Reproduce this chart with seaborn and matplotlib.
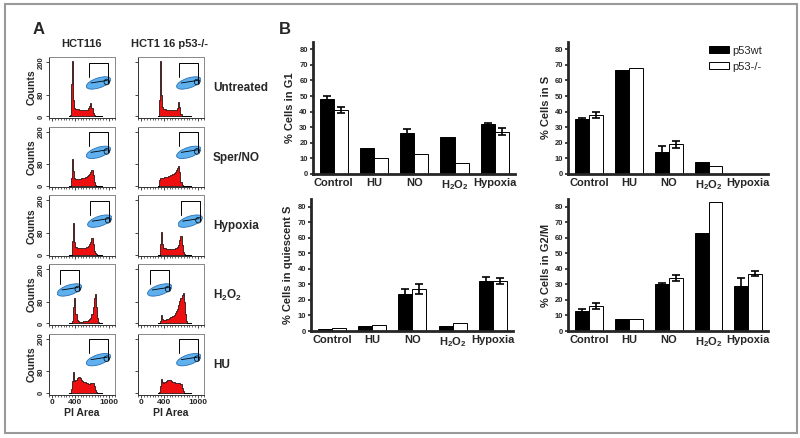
import numpy as np
import pandas as pd
import matplotlib
matplotlib.use("Agg")
import matplotlib.pyplot as plt
from matplotlib.patches import Ellipse, Rectangle
from matplotlib.ticker import MultipleLocator, FixedLocator
import seaborn as sns

sns.set_theme(style="ticks")
plt.rcParams['font.family'] = ['Liberation Sans', 'DejaVu Sans']
plt.rcParams['mathtext.fontset'] = 'custom'
plt.rcParams['mathtext.rm'] = 'Liberation Sans'
plt.rcParams['mathtext.bf'] = 'Liberation Sans:bold'

# ---------------- Panel A data (flow cytometry histograms) ----------------
bin_centers = [300, 320, 340, 360, 380, 400, 420, 440, 460, 480, 500, 520, 540, 560, 580,
               600, 620, 640, 660, 680, 700, 720, 740, 760, 780, 800, 820, 840, 860]
untreated_wt = [0, 5, 120, 205, 60, 32, 28, 27, 26, 25, 24, 23, 22, 22, 22, 23, 25, 30, 40, 48, 30, 12, 4, 1, 0, 0, 0, 0, 0]
untreated_ko = [0, 60, 205, 80, 35, 28, 26, 25, 24, 24, 23, 23, 22, 22, 22, 22, 25, 32, 55, 35, 10, 3, 0, 0, 0, 0, 0, 0, 0]
sperno_wt = [0, 0, 30, 100, 55, 30, 27, 26, 26, 26, 27, 28, 29, 30, 32, 34, 37, 40, 45, 52, 58, 40, 15, 4, 0, 0, 0, 0, 0]
sperno_ko = [0, 20, 30, 28, 28, 30, 31, 32, 33, 35, 37, 39, 41, 44, 47, 52, 58, 66, 74, 50, 15, 3, 0, 0, 0, 0, 0, 0, 0]
hypoxia_wt = [0, 0, 0, 50, 118, 45, 28, 26, 26, 25, 25, 25, 25, 25, 26, 27, 29, 33, 38, 48, 63, 40, 15, 5, 1, 0, 0, 0, 0]
hypoxia_ko = [0, 0, 40, 85, 40, 25, 23, 22, 22, 22, 22, 22, 22, 22, 22, 23, 24, 28, 35, 55, 70, 35, 8, 2, 0, 0, 0, 0, 0]
h2o2_wt = [0, 0, 0, 10, 60, 93, 35, 12, 8, 7, 7, 7, 7, 8, 8, 9, 10, 12, 15, 20, 35, 60, 95, 107, 60, 20, 5, 0, 0]
h2o2_ko = [0, 0, 10, 30, 18, 14, 14, 15, 16, 18, 20, 22, 25, 28, 32, 38, 45, 55, 68, 82, 95, 105, 111, 80, 35, 8, 0, 0, 0]
hu_wt = [0, 0, 15, 45, 78, 45, 50, 55, 58, 59, 55, 50, 45, 42, 40, 38, 36, 35, 34, 36, 38, 36, 25, 10, 3, 0, 0, 0, 0]
hu_ko = [0, 5, 25, 53, 40, 38, 42, 46, 49, 50, 50, 48, 45, 42, 40, 38, 37, 36, 36, 37, 33, 20, 8, 2, 0, 0, 0, 0, 0]

row_labels = ["Untreated", "Sper/NO", "Hypoxia", r"$\mathbf{H_2O_2}$", "HU"]
col_titles = ["HCT116", "HCT1 16 p53-/-"]
hist_rows = [(untreated_wt, untreated_ko), (sperno_wt, sperno_ko), (hypoxia_wt, hypoxia_ko),
             (h2o2_wt, h2o2_ko), (hu_wt, hu_ko)]
hist_yticks = [0, 80, 200]
hist_xticks = [0, 400, 1000]
# inset (dot-plot) position in axes fraction: left side for H2O2 row
inset_left = [0.56, 0.56, 0.58, 0.12, 0.56]

# ---------------- Panel B data ----------------
treatments = ["Control", "HU", "NO", r"$\mathbf{H_2O_2}$", "Hypoxia"]
lines = ["p53wt", "p53-/-"]
g1_wt = [48, 17, 26, 24, 32]
g1_wt_err = [2, 0, 3, 0, 1]
g1_ko = [41, 10, 13, 7, 27]
g1_ko_err = [2, 0, 0, 0, 2.3]
s_wt = [35, 67, 14, 8, 0]
s_wt_err = [1, 0, 4, 0, 0]
s_ko = [38, 68, 19, 5, 0]
s_ko_err = [2, 0, 2, 0, 0]
qs_wt = [1, 3, 24, 3, 32]
qs_wt_err = [0, 0, 3, 0, 3]
qs_ko = [2, 4, 27, 5, 32]
qs_ko_err = [0, 0, 3, 0, 2]
g2_wt = [13, 8, 30, 63, 29]
g2_wt_err = [1, 0, 1, 0, 5]
g2_ko = [16, 8, 34, 83, 37]
g2_ko_err = [2, 0, 2, 0, 1.4]
bar_yticks = [0, 10, 20, 30, 40, 50, 60, 70, 80]

W, H = 800, 438
fig = plt.figure(figsize=(W / 100, H / 100), dpi=100)

def px_axes(left, top, right, bottom):
    return fig.add_axes([left / W, 1 - bottom / H, (right - left) / W, (bottom - top) / H])

# outer frame
fig.patches.append(Rectangle((5 / W, 1 - 433 / H), 792 / W, 429 / H, transform=fig.transFigure,
                             fill=False, edgecolor='#9a9a9a', linewidth=1.5))

# ---------------- Panel A ----------------
col_lr = [(49, 115), (138, 204)]
row_tops = [57.3, 126.7, 195.5, 264.3, 334]
hist_h = 60.5
for r, (wt, ko) in enumerate(hist_rows):
    for c, counts in enumerate((wt, ko)):
        l, rr = col_lr[c]
        ax = px_axes(l, row_tops[r], rr, row_tops[r] + hist_h)
        sns.histplot(x=bin_centers, weights=counts, binwidth=20, binrange=(290, 870),
                     element='step', fill=True, color='#ee1010', alpha=1,
                     edgecolor='black', linewidth=0.5, ax=ax)
        ax.set_xlim(-55, 1105)
        ax.set_ylim(-5, 218)
        ax.set_ylabel("")
        ax.set_xlabel("")
        for sp in ax.spines.values():
            sp.set_visible(True)
            sp.set_linewidth(0.7)
            sp.set_color('#333333')
        ax.spines['top'].set_color('#888888')
        ax.spines['right'].set_color('#888888')
        ax.yaxis.set_major_locator(FixedLocator(hist_yticks))
        ax.xaxis.set_major_locator(FixedLocator(hist_xticks))
        ax.xaxis.set_minor_locator(MultipleLocator(50))
        ax.tick_params(axis='both', which='major', length=2, width=0.6, pad=1, labelsize=5.5)
        ax.tick_params(axis='x', which='minor', length=1.2, width=0.5)
        if c == 0:
            ax.set_yticklabels([str(v) for v in hist_yticks], rotation=90, va='center',
                               fontweight='bold', fontsize=5.5)
            ax.set_ylabel("Counts", fontsize=7.5, fontweight='bold', labelpad=1)
        else:
            ax.set_yticklabels([])
        if r == 4:
            ax.set_xticklabels([str(v) for v in hist_xticks], fontweight='bold', fontsize=6)
            ax.set_xlabel("PI Area", fontsize=7.5, fontweight='bold', labelpad=2)
        else:
            ax.set_xticklabels([])
        # dot-plot inset with gates
        ix = inset_left[r] + (0.0 if c == 0 else 0.02)
        ins = ax.inset_axes([ix, 0.42, 0.38, 0.52])
        ins.set_xlim(0, 1)
        ins.set_ylim(0, 1)
        ins.axis('off')
        ins.add_patch(Ellipse((0.5, 0.3), 1.0, 0.32, angle=14, facecolor='#5eb0ee',
                              edgecolor='#2b6fb3', linewidth=0.6))
        ins.plot([0.12, 0.12, 0.88, 0.88], [0.5, 0.95, 0.95, 0.3], color='black', lw=0.7)
        ins.plot([0.2, 0.85], [0.3, 0.38], color='black', lw=0.6)
        ins.add_patch(Ellipse((0.83, 0.33), 0.22, 0.18, facecolor='none', edgecolor='black', lw=0.5))
        if c == 1:
            fig.text(213 / W, 1 - (row_tops[r] + 31) / H, row_labels[r], fontsize=8.5,
                     fontweight='bold', va='center', ha='left')

fig.text(82 / W, 1 - 44 / H, col_titles[0], fontsize=8, fontweight='bold', ha='center', va='center')
fig.text(170 / W, 1 - 44 / H, col_titles[1], fontsize=8, fontweight='bold', ha='center', va='center')
fig.text(33 / W, 1 - 29 / H, "A", fontsize=12, fontweight='bold', ha='left', va='center')
fig.text(279 / W, 1 - 30 / H, "B", fontsize=12, fontweight='bold', ha='left', va='center')

# ---------------- Panel B ----------------
def bar_panel(rect, wt, wt_err, ko, ko_err, ylabel, legend=False):
    ax = px_axes(*rect)
    df = pd.DataFrame({
        "treatment": treatments * 2,
        "value": wt + ko,
        "line": [lines[0]] * len(treatments) + [lines[1]] * len(treatments),
    })
    sns.barplot(data=df, x="treatment", y="value", hue="line", hue_order=lines,
                palette=['black', 'white'], edgecolor='black', linewidth=0.7,
                width=0.7, errorbar=None, ax=ax, legend=legend, zorder=2)
    for cont, err in zip(ax.containers, (wt_err, ko_err)):
        xs = [p.get_x() + p.get_width() / 2 for p in cont.patches]
        ys = [p.get_height() for p in cont.patches]
        sel = [i for i, e in enumerate(err) if e > 0]
        ax.errorbar([xs[i] for i in sel], [ys[i] for i in sel], yerr=[err[i] for i in sel],
                    fmt='none', ecolor='black', elinewidth=1.2, capsize=3, capthick=1.2, zorder=3)
    ax.set_xlim(-0.52, 4.5)
    ax.set_ylim(0, 85)
    ax.yaxis.set_major_locator(FixedLocator(bar_yticks))
    ax.set_yticklabels([str(v) for v in bar_yticks], fontweight='bold', fontsize=5.5)
    ax.set_xticks(range(len(treatments)))
    ax.set_xticklabels(treatments, fontweight='bold', fontsize=8)
    ax.tick_params(axis='y', length=2.5, width=1.2, pad=1)
    ax.tick_params(axis='x', length=0, pad=3)
    ax.set_xlabel("")
    ax.set_ylabel(ylabel, fontsize=8, fontweight='bold', labelpad=3)
    sns.despine(ax=ax)
    ax.spines['left'].set_linewidth(2)
    ax.spines['bottom'].set_linewidth(2)
    if legend:
        ax.legend(loc='upper right', frameon=False, fontsize=8, handlelength=1.8,
                  handleheight=0.65, handletextpad=0.3, labelspacing=0.55,
                  bbox_to_anchor=(1.0, 1.02), borderaxespad=0.2)
    return ax

bar_panel((312.7, 41.5, 515, 174), g1_wt, g1_wt_err, g1_ko, g1_ko_err, "% Cells in G1")
bar_panel((568.3, 41.5, 768.3, 174), s_wt, s_wt_err, s_ko, s_ko_err, "% Cells in S", legend=True)
bar_panel((311, 199, 513, 331), qs_wt, qs_wt_err, qs_ko, qs_ko_err, "% Cells in quiescent S")
bar_panel((568.3, 199, 768.3, 331), g2_wt, g2_wt_err, g2_ko, g2_ko_err, "% Cells in G2/M")

fig.savefig("out.png", dpi=100)
